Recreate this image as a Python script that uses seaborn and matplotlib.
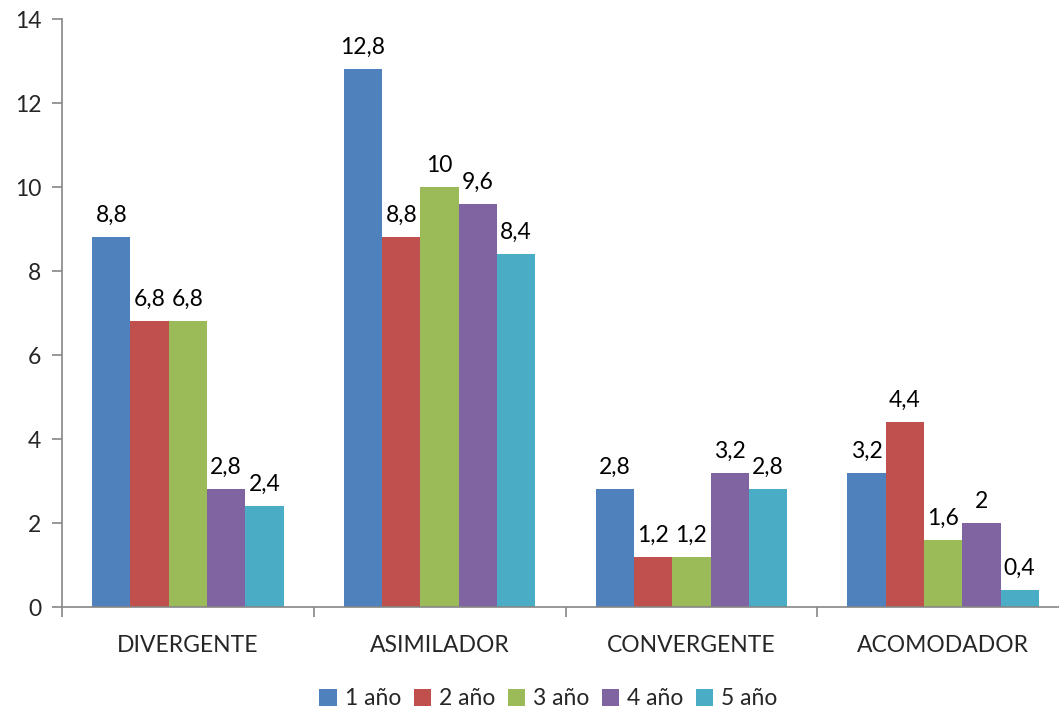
import matplotlib
matplotlib.use("Agg")
import matplotlib.pyplot as plt
import seaborn as sns
import pandas as pd
from matplotlib.patches import Patch
from matplotlib.ticker import FixedLocator

categories = ["DIVERGENTE", "ASIMILADOR", "CONVERGENTE", "ACOMODADOR"]
series = ["1 año", "2 año", "3 año", "4 año", "5 año"]
v1 = [8.8, 12.8, 2.8, 3.2]
v2 = [6.8, 8.8, 1.2, 4.4]
v3 = [6.8, 10.0, 1.2, 1.6]
v4 = [2.8, 9.6, 3.2, 2.0]
v5 = [2.4, 8.4, 2.8, 0.4]
colors = ["#4F81BD", "#C0504D", "#9BBB59", "#8064A2", "#4BACC6"]
yticks = [0, 2, 4, 6, 8, 10, 12, 14]

rows = []
for s, vals in zip(series, [v1, v2, v3, v4, v5]):
    for c, v in zip(categories, vals):
        rows.append({"cat": c, "serie": s, "val": v})
df = pd.DataFrame(rows)

sns.set_theme(style="white")
plt.rcParams["font.family"] = ["Lato", "DejaVu Sans"]
FS = 16.5

fig = plt.figure(figsize=(10.59, 7.10), dpi=100)
ax = fig.add_axes([62/1059, 103/710, 1007/1059, 588/710])

sns.barplot(data=df, x="cat", y="val", hue="serie", order=categories,
            hue_order=series, palette=colors, width=0.76, gap=0,
            saturation=1, ax=ax, legend=False, errorbar=None, linewidth=0)

for cont in ax.containers:
    labels = [("%g" % b.get_height()).replace(".", ",") for b in cont]
    ax.bar_label(cont, labels=labels, padding=8, fontsize=FS, color="#000000")

ax.set_ylim(0, 14)
ax.set_xlim(-0.5, 3.5)
ax.set_yticks(yticks)
ax.set_xlabel("")
ax.set_ylabel("")
ax.xaxis.set_minor_locator(FixedLocator([-0.5, 0.5, 1.5, 2.5, 3.5]))
ax.tick_params(axis="x", which="major", length=0, pad=20, labelsize=FS)
ax.tick_params(axis="x", which="minor", length=7, width=1.2, color="#868686", direction="out", bottom=True)
ax.tick_params(axis="y", length=7, width=1.2, color="#868686", direction="out", left=True, labelsize=FS, pad=8)
for side in ["top", "right"]:
    ax.spines[side].set_visible(False)
for side in ["left", "bottom"]:
    ax.spines[side].set_color("#868686")
    ax.spines[side].set_linewidth(1.2)

handles = [Patch(facecolor=c, edgecolor="none", label=s) for c, s in zip(colors, series)]
fig.legend(handles=handles, loc="center", bbox_to_anchor=(0.518, 0.016), ncol=5,
           frameon=False, fontsize=FS, handlelength=0.75, handleheight=0.75,
           handletextpad=0.35, columnspacing=0.55)

fig.savefig("out.png", dpi=100)
